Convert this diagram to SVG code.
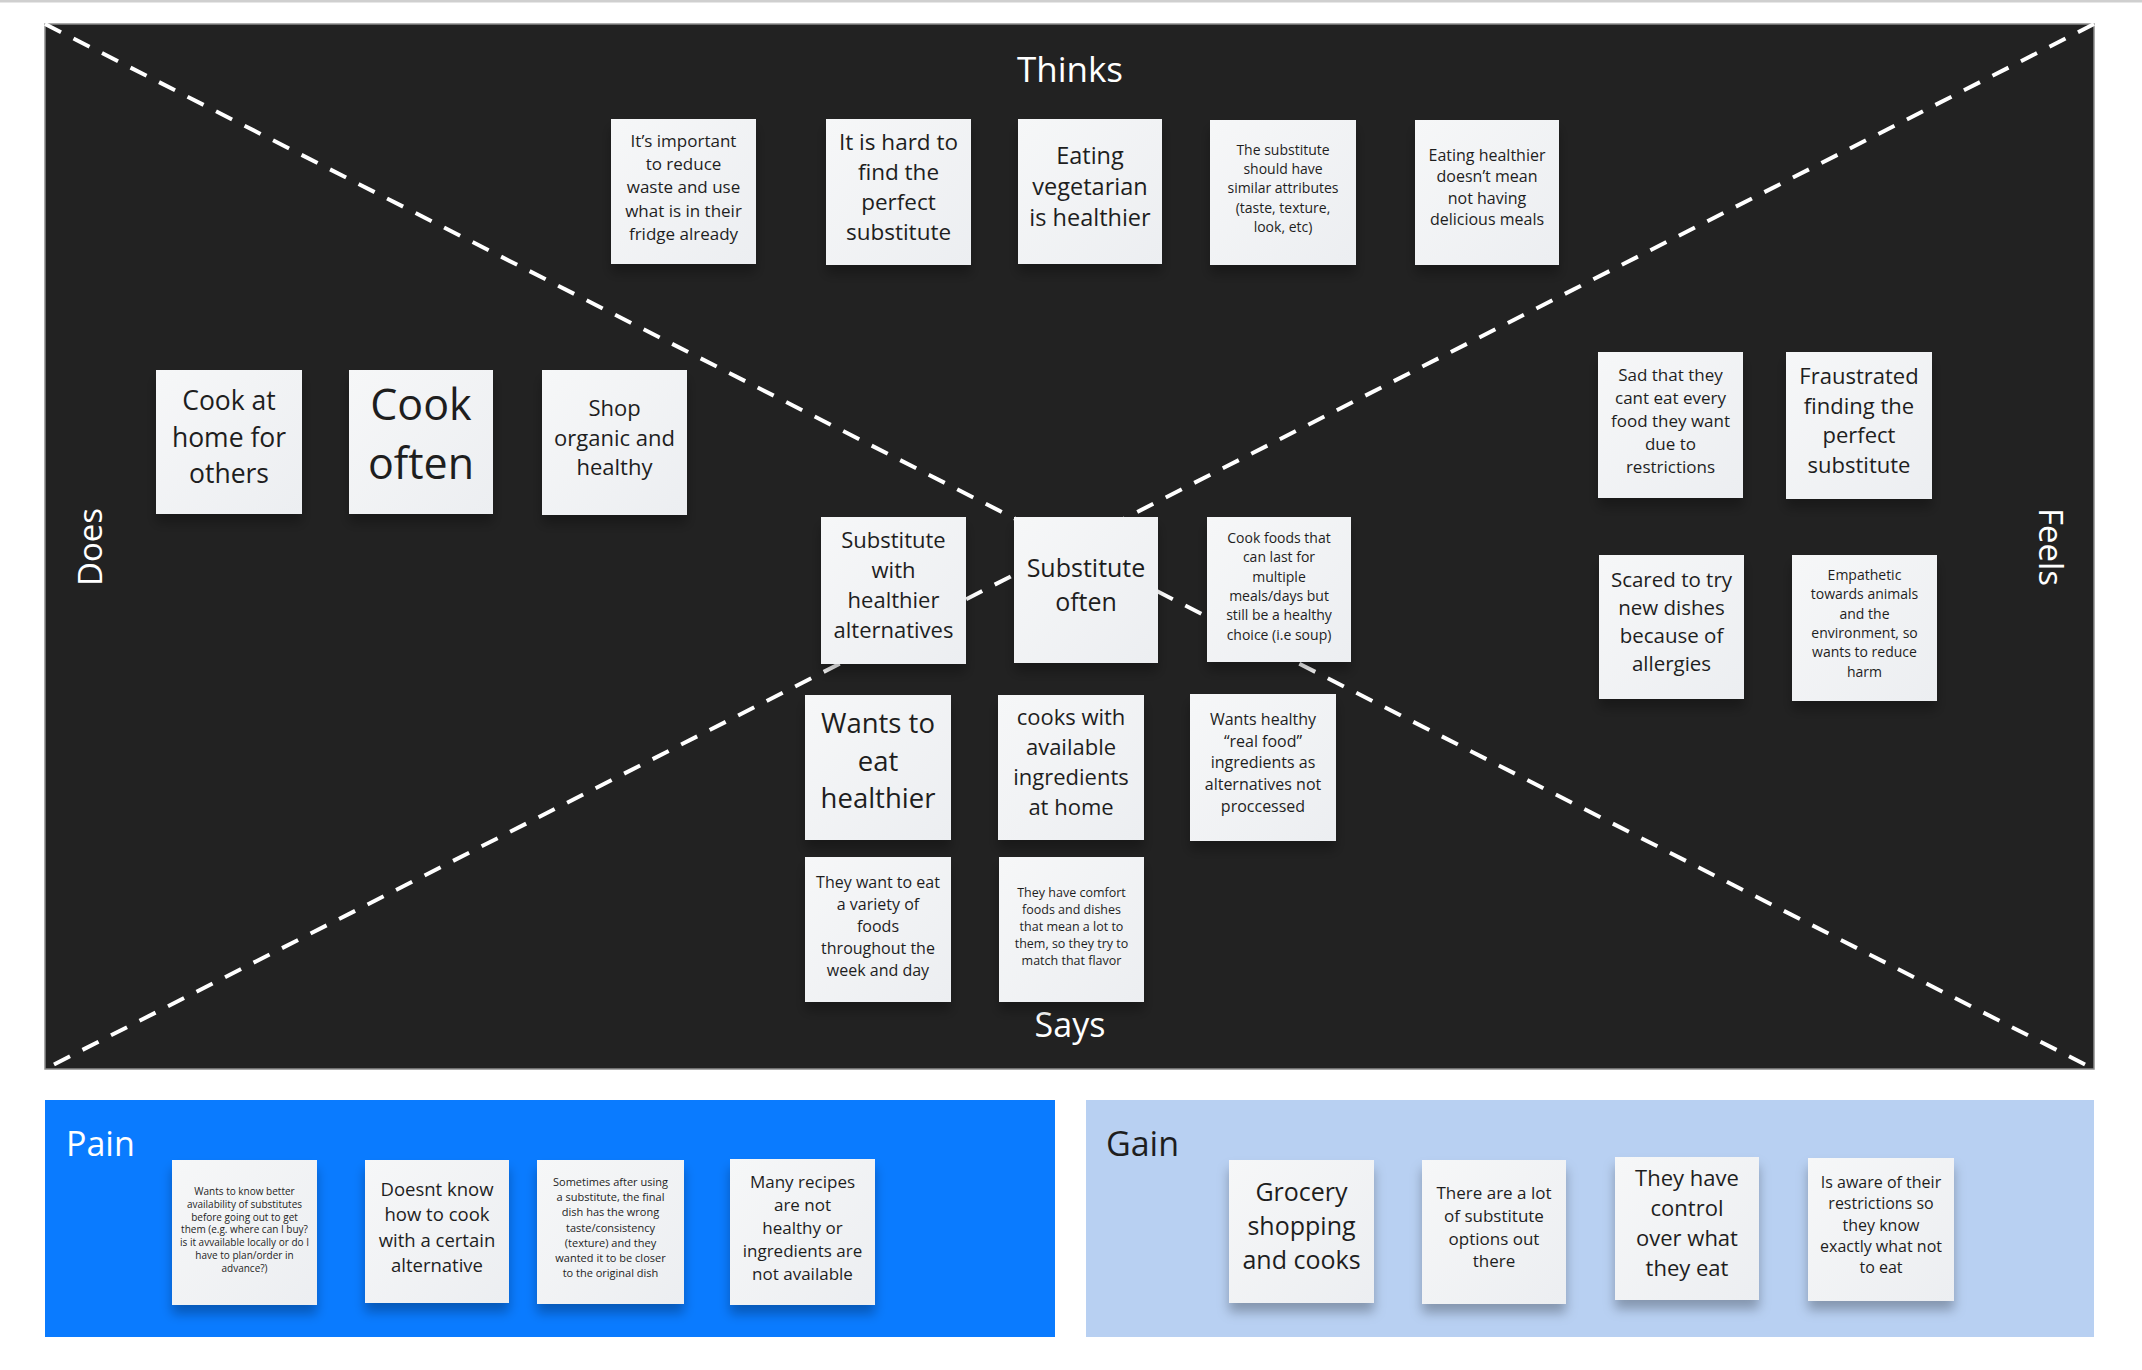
<svg xmlns="http://www.w3.org/2000/svg" width="2142" height="1370" viewBox="0 0 2142 1370">
<defs>
<linearGradient id="cg" x1="0" y1="0" x2="1" y2="1">
<stop offset="0" stop-color="#f6f7f8"/>
<stop offset="1" stop-color="#eceef1"/>
</linearGradient>
<filter id="sh" x="-20%" y="-20%" width="140%" height="150%">
<feDropShadow dx="0" dy="9" stdDeviation="6" flood-color="#000" flood-opacity="0.28"/>
</filter>
<style>
.card{fill:url(#cg);filter:url(#sh)}
.t{font-family:"Open Sans","Noto Sans","Liberation Sans",sans-serif;fill:#1e1e1e;text-anchor:middle}
.lab{font-family:"Open Sans","Noto Sans","Liberation Sans",sans-serif;fill:#ffffff}
.dash{stroke:#ffffff;stroke-width:4;stroke-dasharray:18 14;fill:none}
</style>
</defs>
<rect x="0" y="0" width="2142" height="1370" fill="#ffffff"/>
<rect x="0" y="0" width="2142" height="2.5" fill="#cfcfcf"/>
<g id="empathy-panel">
<rect x="45" y="24" width="2049" height="1045" fill="#222222" stroke="#8c8c8c" stroke-width="1.5"/>
</g>
<g id="connectors">
<line class="dash" x1="45" y1="24" x2="2094" y2="1069"/>
<line class="dash" x1="2094" y1="24" x2="45" y2="1069"/>
</g>
<g id="labels">
<text class="lab" x="1070" y="82" font-size="35" text-anchor="middle">Thinks</text>
<text class="lab" x="1070" y="1037" font-size="34" text-anchor="middle">Says</text>
<text class="lab" font-size="33" text-anchor="middle" transform="translate(102 547) rotate(-90)">Does</text>
<text class="lab" font-size="33" text-anchor="middle" transform="translate(2039 547) rotate(90)">Feels</text>
</g>
<g id="pain-panel">
<rect x="45" y="1100" width="1010" height="237" fill="#0a7bff"/>
<text class="lab" x="66" y="1156" font-size="34">Pain</text>
</g>
<g id="gain-panel">
<rect x="1086" y="1100" width="1008" height="237" fill="#b8d0f2"/>
<text class="lab" x="1106" y="1156" font-size="34" style="fill:#1e1e1e">Gain</text>
</g>

<g id="n1"><rect class="card" x="611" y="119" width="145" height="145"/>
<text class="t" font-size="17" y="147"><tspan x="683.5">It’s important</tspan><tspan x="683.5" dy="23.2">to reduce</tspan><tspan x="683.5" dy="23.2">waste and use</tspan><tspan x="683.5" dy="23.2">what is in their</tspan><tspan x="683.5" dy="23.2">fridge already</tspan></text></g>
<g id="n2"><rect class="card" x="826" y="119" width="145" height="146"/>
<text class="t" font-size="22.5" y="150"><tspan x="898.5">It is hard to</tspan><tspan x="898.5" dy="30">find the</tspan><tspan x="898.5" dy="30">perfect</tspan><tspan x="898.5" dy="30">substitute</tspan></text></g>
<g id="n3"><rect class="card" x="1018" y="119" width="144" height="145"/>
<text class="t" font-size="23.5" y="164"><tspan x="1090">Eating</tspan><tspan x="1090" dy="31">vegetarian</tspan><tspan x="1090" dy="31">is healthier</tspan></text></g>
<g id="n4"><rect class="card" x="1210" y="120" width="146" height="145"/>
<text class="t" font-size="14" y="155"><tspan x="1283">The substitute</tspan><tspan x="1283" dy="19.2">should have</tspan><tspan x="1283" dy="19.2">similar attributes</tspan><tspan x="1283" dy="19.2">(taste, texture,</tspan><tspan x="1283" dy="19.2">look, etc)</tspan></text></g>
<g id="n5"><rect class="card" x="1415" y="120" width="144" height="145"/>
<text class="t" font-size="16" y="161"><tspan x="1487">Eating healthier</tspan><tspan x="1487" dy="21.3">doesn’t mean</tspan><tspan x="1487" dy="21.3">not having</tspan><tspan x="1487" dy="21.3">delicious meals</tspan></text></g>

<g id="n6"><rect class="card" x="156" y="370" width="146" height="144"/>
<text class="t" font-size="26.5" y="410"><tspan x="229">Cook at</tspan><tspan x="229" dy="36.6">home for</tspan><tspan x="229" dy="36.6">others</tspan></text></g>
<g id="n7"><rect class="card" x="349" y="370" width="144" height="144"/>
<text class="t" font-size="43" y="420"><tspan x="421">Cook</tspan><tspan x="421" dy="59">often</tspan></text></g>
<g id="n8"><rect class="card" x="542" y="370" width="145" height="145"/>
<text class="t" font-size="22" y="416"><tspan x="614.5">Shop</tspan><tspan x="614.5" dy="29.5">organic and</tspan><tspan x="614.5" dy="29.5">healthy</tspan></text></g>

<g id="n9"><rect class="card" x="1598" y="352" width="145" height="146"/>
<text class="t" font-size="17" y="381"><tspan x="1670.5">Sad that they</tspan><tspan x="1670.5" dy="23">cant eat every</tspan><tspan x="1670.5" dy="23">food they want</tspan><tspan x="1670.5" dy="23">due to</tspan><tspan x="1670.5" dy="23">restrictions</tspan></text></g>
<g id="n10"><rect class="card" x="1786" y="352" width="146" height="147"/>
<text class="t" font-size="22" y="384"><tspan x="1859">Fraustrated</tspan><tspan x="1859" dy="29.7">finding the</tspan><tspan x="1859" dy="29.7">perfect</tspan><tspan x="1859" dy="29.7">substitute</tspan></text></g>
<g id="n11"><rect class="card" x="1599" y="555" width="145" height="144"/>
<text class="t" font-size="20.5" y="587"><tspan x="1671.5">Scared to try</tspan><tspan x="1671.5" dy="28">new dishes</tspan><tspan x="1671.5" dy="28">because of</tspan><tspan x="1671.5" dy="28">allergies</tspan></text></g>
<g id="n12"><rect class="card" x="1792" y="555" width="145" height="146"/>
<text class="t" font-size="14" y="580"><tspan x="1864.5">Empathetic</tspan><tspan x="1864.5" dy="19.3">towards animals</tspan><tspan x="1864.5" dy="19.3">and the</tspan><tspan x="1864.5" dy="19.3">environment, so</tspan><tspan x="1864.5" dy="19.3">wants to reduce</tspan><tspan x="1864.5" dy="19.3">harm</tspan></text></g>

<g id="n13"><rect class="card" x="821" y="517" width="145" height="147"/>
<text class="t" font-size="22" y="548"><tspan x="893.5">Substitute</tspan><tspan x="893.5" dy="30">with</tspan><tspan x="893.5" dy="30">healthier</tspan><tspan x="893.5" dy="30">alternatives</tspan></text></g>
<g id="n14"><rect class="card" x="1014" y="517" width="144" height="146"/>
<text class="t" font-size="25" y="577"><tspan x="1086">Substitute</tspan><tspan x="1086" dy="34">often</tspan></text></g>
<g id="n15"><rect class="card" x="1207" y="517" width="144" height="145"/>
<text class="t" font-size="14" y="543"><tspan x="1279">Cook foods that</tspan><tspan x="1279" dy="19.3">can last for</tspan><tspan x="1279" dy="19.3">multiple</tspan><tspan x="1279" dy="19.3">meals/days but</tspan><tspan x="1279" dy="19.3">still be a healthy</tspan><tspan x="1279" dy="19.3">choice (i.e soup)</tspan></text></g>
<g id="n16"><rect class="card" x="805" y="695" width="146" height="145"/>
<text class="t" font-size="27.5" y="733"><tspan x="878">Wants to</tspan><tspan x="878" dy="37.5">eat</tspan><tspan x="878" dy="37.5">healthier</tspan></text></g>
<g id="n17"><rect class="card" x="998" y="695" width="146" height="145"/>
<text class="t" font-size="22" y="725"><tspan x="1071">cooks with</tspan><tspan x="1071" dy="30">available</tspan><tspan x="1071" dy="30">ingredients</tspan><tspan x="1071" dy="30">at home</tspan></text></g>
<g id="n18"><rect class="card" x="1190" y="694" width="146" height="147"/>
<text class="t" font-size="16" y="725"><tspan x="1263">Wants healthy</tspan><tspan x="1263" dy="21.7">“real food”</tspan><tspan x="1263" dy="21.7">ingredients as</tspan><tspan x="1263" dy="21.7">alternatives not</tspan><tspan x="1263" dy="21.7">proccessed</tspan></text></g>
<g id="n19"><rect class="card" x="805" y="857" width="146" height="145"/>
<text class="t" font-size="16" y="888"><tspan x="878">They want to eat</tspan><tspan x="878" dy="21.9">a variety of</tspan><tspan x="878" dy="21.9">foods</tspan><tspan x="878" dy="21.9">throughout the</tspan><tspan x="878" dy="21.9">week and day</tspan></text></g>
<g id="n20"><rect class="card" x="999" y="857" width="145" height="145"/>
<text class="t" font-size="12.5" y="897"><tspan x="1071.5">They have comfort</tspan><tspan x="1071.5" dy="16.9">foods and dishes</tspan><tspan x="1071.5" dy="16.9">that mean a lot to</tspan><tspan x="1071.5" dy="16.9">them, so they try to</tspan><tspan x="1071.5" dy="16.9">match that flavor</tspan></text></g>

<g id="n21"><rect class="card" x="172" y="1160" width="145" height="145"/>
<text class="t" font-size="10" y="1195"><tspan x="244.5">Wants to know better</tspan><tspan x="244.5" dy="12.8">availability of substitutes</tspan><tspan x="244.5" dy="12.8">before going out to get</tspan><tspan x="244.5" dy="12.8">them (e.g. where can I buy?</tspan><tspan x="244.5" dy="12.8">is it avvailable locally or do I</tspan><tspan x="244.5" dy="12.8">have to plan/order in</tspan><tspan x="244.5" dy="12.8">advance?)</tspan></text></g>
<g id="n22"><rect class="card" x="365" y="1160" width="144" height="143"/>
<text class="t" font-size="18.5" y="1196"><tspan x="437">Doesnt know</tspan><tspan x="437" dy="25.4">how to cook</tspan><tspan x="437" dy="25.4">with a certain</tspan><tspan x="437" dy="25.4">alternative</tspan></text></g>
<g id="n23"><rect class="card" x="537" y="1160" width="147" height="144"/>
<text class="t" font-size="11" y="1186"><tspan x="610.5">Sometimes after using</tspan><tspan x="610.5" dy="15.2">a substitute, the final</tspan><tspan x="610.5" dy="15.2">dish has the wrong</tspan><tspan x="610.5" dy="15.2">taste/consistency</tspan><tspan x="610.5" dy="15.2">(texture) and they</tspan><tspan x="610.5" dy="15.2">wanted it to be closer</tspan><tspan x="610.5" dy="15.2">to the original dish</tspan></text></g>
<g id="n24"><rect class="card" x="730" y="1159" width="145" height="146"/>
<text class="t" font-size="17" y="1188"><tspan x="802.5">Many recipes</tspan><tspan x="802.5" dy="22.9">are not</tspan><tspan x="802.5" dy="22.9">healthy or</tspan><tspan x="802.5" dy="22.9">ingredients are</tspan><tspan x="802.5" dy="22.9">not available</tspan></text></g>

<g id="n25"><rect class="card" x="1229" y="1160" width="145" height="143"/>
<text class="t" font-size="25" y="1201"><tspan x="1301.5">Grocery</tspan><tspan x="1301.5" dy="33.8">shopping</tspan><tspan x="1301.5" dy="33.8">and cooks</tspan></text></g>
<g id="n26"><rect class="card" x="1422" y="1160" width="144" height="144"/>
<text class="t" font-size="17" y="1199"><tspan x="1494">There are a lot</tspan><tspan x="1494" dy="22.8">of substitute</tspan><tspan x="1494" dy="22.8">options out</tspan><tspan x="1494" dy="22.8">there</tspan></text></g>
<g id="n27"><rect class="card" x="1615" y="1157" width="144" height="143"/>
<text class="t" font-size="22" y="1186"><tspan x="1687">They have</tspan><tspan x="1687" dy="30">control</tspan><tspan x="1687" dy="30">over what</tspan><tspan x="1687" dy="30">they eat</tspan></text></g>
<g id="n28"><rect class="card" x="1808" y="1158" width="146" height="143"/>
<text class="t" font-size="16" y="1188"><tspan x="1881">Is aware of their</tspan><tspan x="1881" dy="21.3">restrictions so</tspan><tspan x="1881" dy="21.3">they know</tspan><tspan x="1881" dy="21.3">exactly what not</tspan><tspan x="1881" dy="21.3">to eat</tspan></text></g>
</svg>
